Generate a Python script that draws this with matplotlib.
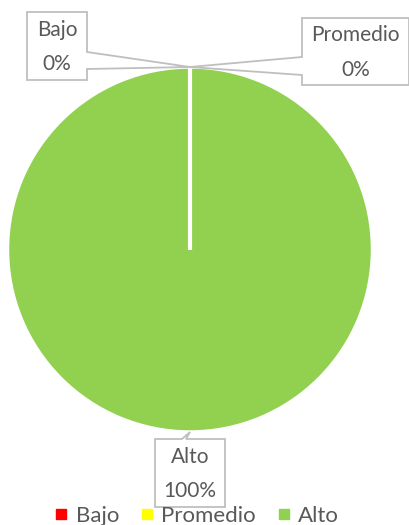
import numpy as np
import matplotlib
matplotlib.use("Agg")
import matplotlib.pyplot as plt
from matplotlib.patches import Polygon
from matplotlib.lines import Line2D

categories = ["Bajo", "Promedio", "Alto"]
values = [0, 0, 100]
colors = ["#FF0000", "#FFFF00", "#92D050"]

W, H = 409, 525
fig = plt.figure(figsize=(W / 100, H / 100), dpi=100)
ax = fig.add_axes([0, 0, 1, 1])

cx, cy, r = 190, H - 249.5, 182.5
start = 90.0
wedges, _ = ax.pie(values, colors=colors, startangle=start, counterclock=False,
                   center=(cx, cy), radius=r, frame=False,
                   wedgeprops=dict(edgecolor="white", linewidth=2.5))
ax.set_xlim(0, W)
ax.set_ylim(0, H)
ax.set_aspect("equal")
ax.axis("off")

ax.plot([cx, cx + r * np.cos(np.deg2rad(start))],
        [cy, cy + r * np.sin(np.deg2rad(start))], color="white", lw=3,
        solid_capstyle="butt", zorder=3)

font = "Lato"
tcol = "#595959"
bcol = "#BFBFBF"
total = sum(values)

boxes = {
    "Bajo": (27, 12, 87, 80, "right"),
    "Promedio": (302, 18, 409, 85, "left"),
    "Alto": (155, 439, 225, 507, "top"),
}

ang = start
for cat, v in zip(categories, values):
    sweep = 360.0 * v / total
    mid = np.deg2rad(ang - sweep / 2)
    ang -= sweep
    axp, ayp = cx + r * np.cos(mid), cy + r * np.sin(mid)
    l, t, rr, b, side = boxes[cat]
    t, b = H - t, H - b
    if side == "right":
        pts = [(l, t), (rr, t), (rr, t - 40), (axp, ayp), (rr, t - 57), (rr, b), (l, b)]
    elif side == "left":
        pts = [(l, t), (rr, t), (rr, b), (l, b), (l, b + 10), (axp, ayp), (l, t - 39)]
    else:
        pts = [(l, t), (l + 27, t), (axp, ayp), (l + 31, t), (rr, t), (rr, b), (l, b)]
    ax.add_patch(Polygon(pts, closed=True, facecolor="white", edgecolor=bcol,
                         linewidth=1.3, zorder=5))
    ax.text((l + rr) / 2, (t + b) / 2 - 1, f"{cat}\n{v / total * 100:.0f}%",
            ha="center", va="center", fontsize=15, color=tcol, family=font,
            linespacing=1.9, zorder=6)

handles = [Line2D([], [], marker="s", linestyle="none", markersize=6.5,
                  markerfacecolor=c, markeredgecolor=c) for c in colors]
fig.legend(handles, categories, loc="lower center", ncol=3, frameon=False,
           bbox_to_anchor=(0.48, -0.04), handlelength=0.7, handletextpad=0.3,
           columnspacing=0.9,
           prop=dict(family=font, size=16), labelcolor=tcol)

fig.savefig("out.png", dpi=100)
